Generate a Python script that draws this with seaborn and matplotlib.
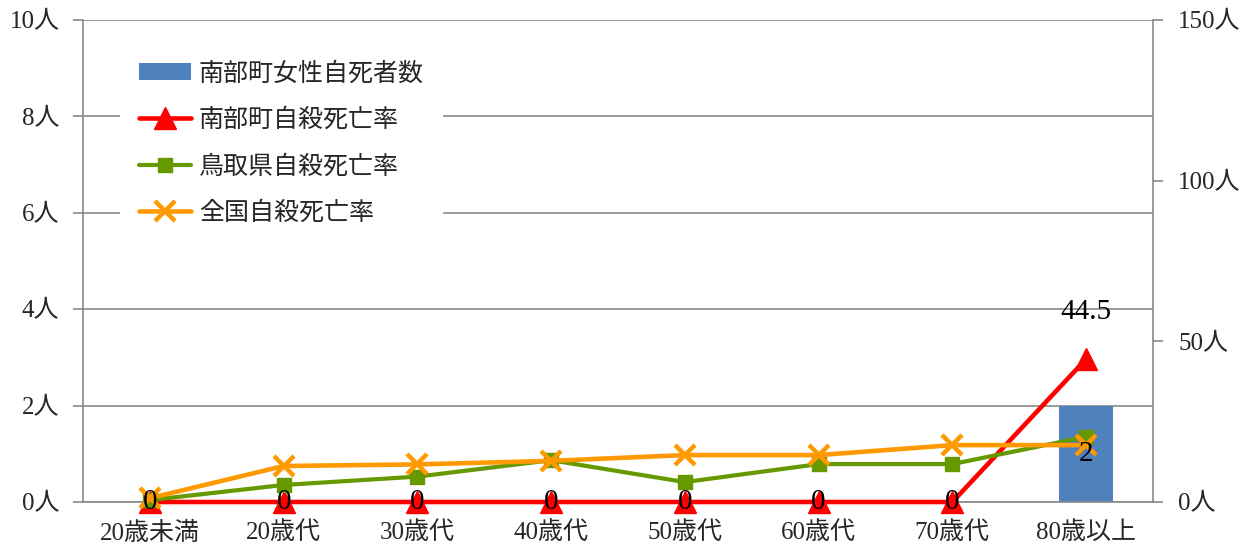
import numpy as np
import matplotlib
matplotlib.use("Agg")
import matplotlib.pyplot as plt
import seaborn as sns
from matplotlib.ticker import MultipleLocator, FixedLocator, FuncFormatter

# 年代別データ
age_groups = ["20歳未満", "20歳代", "30歳代", "40歳代", "50歳代", "60歳代", "70歳代", "80歳以上"]
nanbu_female_deaths = [0, 0, 0, 0, 0, 0, 0, 2]          # 人数（左軸）
nanbu_rate = [0, 0, 0, 0, 0, 0, 0, 44.5]                # 自殺死亡率（右軸）
tottori_rate = [0.6, 5.3, 7.9, 13.0, 6.2, 11.8, 11.8, 20.3]
national_rate = [1.2, 11.2, 11.7, 12.8, 14.6, 14.6, 17.7, 17.7]

series_labels = ["南部町女性自死者数", "南部町自殺死亡率", "鳥取県自殺死亡率", "全国自殺死亡率"]

sns.set_style("white")
plt.rcParams["font.family"] = ["Liberation Serif", "Noto Sans CJK JP"]

GRID = "#898989"
BAR = "#4F81BD"
RED = "#FF0000"
GREEN = "#669900"
ORANGE = "#FF9900"

W, H = 1254, 557
fig = plt.figure(figsize=(W / 100, H / 100), dpi=100)
ax = fig.add_axes([83 / W, 55 / H, 1070 / W, 482 / H])

sns.barplot(x=age_groups, y=nanbu_female_deaths, color=BAR, saturation=1,
            width=0.4, linewidth=0, ax=ax, label=series_labels[0], zorder=2)
if ax.get_legend() is not None:
    ax.get_legend().remove()

ax.set_xlim(-0.5, len(age_groups) - 0.5)
ax.set_ylim(0, 10)
ax.yaxis.set_major_locator(MultipleLocator(2))
ax.yaxis.set_major_formatter(FuncFormatter(lambda v, p: f"{int(v)}人"))
ax.set_xlabel("")
ax.set_ylabel("")
ax.yaxis.grid(True, color=GRID, linewidth=1.2)
ax.xaxis.grid(False)
ax.set_axisbelow(True)

# 区切り目盛り（カテゴリの境界）
ax.xaxis.set_minor_locator(FixedLocator(np.arange(-0.5, len(age_groups), 1.0)))
ax.tick_params(axis="x", which="major", length=0, pad=14, labelsize=18)
ax.tick_params(axis="x", which="minor", length=7, width=1.2, color=GRID)
ax.tick_params(axis="y", length=7, width=1.2, color=GRID, pad=10, labelsize=18, left=True)

for s in ["top", "right"]:
    ax.spines[s].set_visible(False)
for s in ["left", "bottom"]:
    ax.spines[s].set_color(GRID)
    ax.spines[s].set_linewidth(1.2)

# 右軸：自殺死亡率
ax2 = ax.twinx()
pos = np.arange(len(age_groups))
sns.lineplot(x=pos, y=nanbu_rate, ax=ax2, color=RED, linewidth=3.3, marker="^",
             markersize=16, markeredgecolor=RED, markeredgewidth=1,
             label=series_labels[1], clip_on=False, zorder=3)
sns.lineplot(x=pos, y=tottori_rate, ax=ax2, color=GREEN, linewidth=3.0, marker="s",
             markersize=10, markeredgecolor=GREEN, markeredgewidth=1,
             label=series_labels[2], clip_on=False, zorder=4)
sns.lineplot(x=pos, y=national_rate, ax=ax2, color=ORANGE, linewidth=3.3, marker="x",
             markersize=15, markeredgecolor=ORANGE, markeredgewidth=3.2,
             label=series_labels[3], clip_on=False, zorder=5)

ax2.set_xlim(-0.5, len(age_groups) - 0.5)
ax2.set_ylim(0, 150)
ax2.yaxis.set_major_locator(MultipleLocator(50))
ax2.yaxis.set_major_formatter(FuncFormatter(lambda v, p: f"{int(v)}人"))
ax2.set_ylabel("")
ax2.tick_params(axis="y", length=7, width=1.2, color=GRID, pad=11, labelsize=18, right=True)
for s in ["top", "left", "bottom"]:
    ax2.spines[s].set_visible(False)
ax2.spines["right"].set_color(GRID)
ax2.spines["right"].set_linewidth(1.2)

# データラベル
for i, v in enumerate(nanbu_female_deaths):
    ax2.text(i, v / 2, f"{v}", transform=ax.transData, ha="center", va="center",
             fontsize=21, color="black", zorder=10)
for i, v in enumerate(nanbu_rate):
    if v > 0:
        ax2.annotate(f"{v}", (i, v), xytext=(0, 47), textcoords="offset pixels",
                     ha="center", va="center", fontsize=21, color="black", zorder=10)

# 凡例
h1, l1 = ax.get_legend_handles_labels()
h2, l2 = ax2.get_legend_handles_labels()
leg = ax2.legend(h1 + h2, l1 + l2, loc="upper left",
                 bbox_to_anchor=(120 / W, (H - 43) / H), bbox_transform=fig.transFigure,
                 frameon=True, facecolor="white", edgecolor="none", framealpha=1,
                 fontsize=18, handlelength=2.1, handletextpad=0.3,
                 labelspacing=0.92, borderpad=0.75, borderaxespad=0)
leg.set_zorder(20)

fig.savefig("out.png", dpi=100)
